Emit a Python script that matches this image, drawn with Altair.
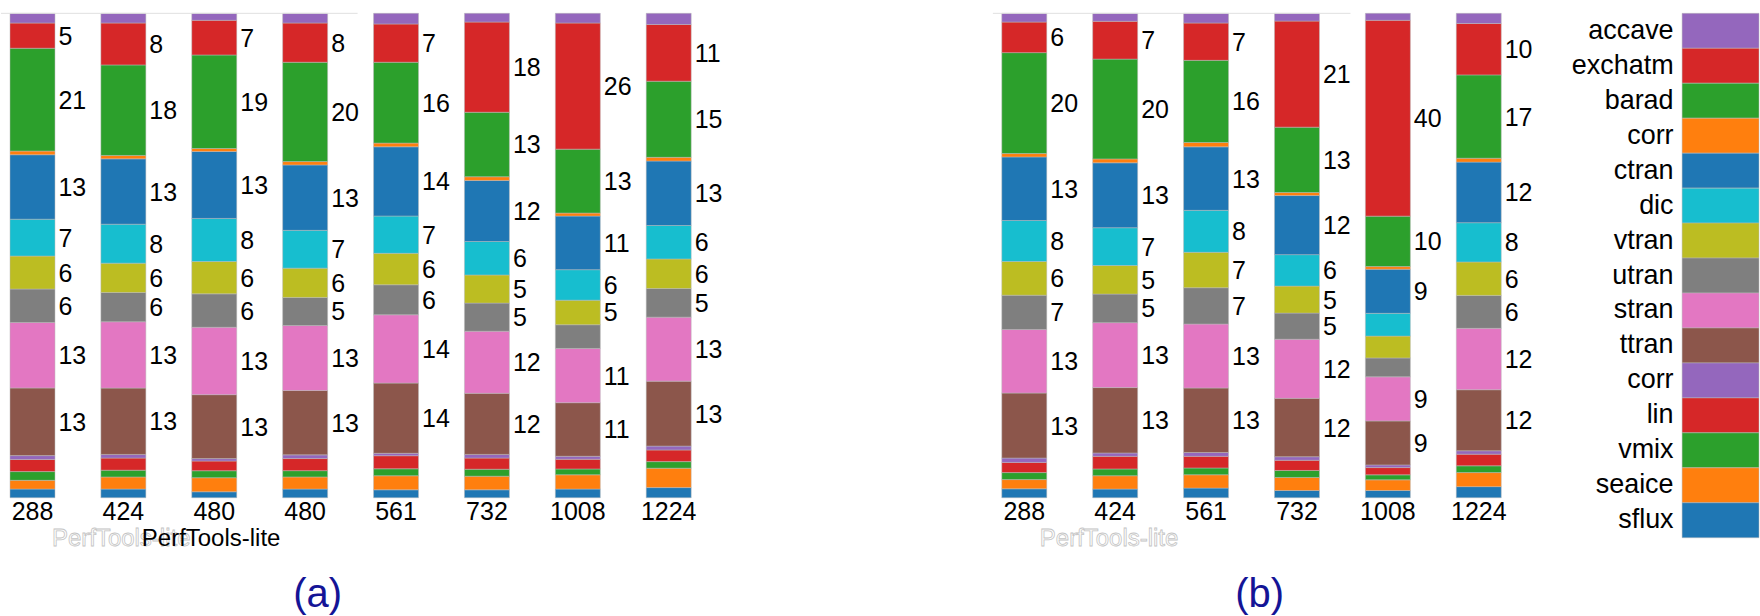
import math
import altair as alt
import pandas as pd

FONT = "Liberation Sans"

# components, listed top of bar -> bottom of bar
components = ["accave", "exchatm", "barad", "corr", "ctran", "dic", "vtran", "utran",
              "stran", "ttran", "corr", "lin", "vmix", "seaice", "sflux"]
colors = ["#9467bd", "#d62728", "#2ca02c", "#ff7f0e", "#1f77b4", "#17becf", "#bcbd22",
          "#7f7f7f", "#e377c2", "#8c564b", "#9467bd", "#d62728", "#2ca02c", "#ff7f0e", "#1f77b4"]

nodes_a = ["288", "424", "480", "480", "561", "732", "1008", "1224"]
nodes_b = ["288", "424", "561", "732", "1008", "1224"]

# share of run time (%) per component, same order as `components`
shares_a = [
    [2.0, 5.2, 21.2, 0.76, 13.3, 7.6, 6.8, 6.9, 13.5, 13.95, 0.8, 2.5, 1.8, 1.8, 1.8],
    [2.0, 8.66, 18.7, 0.7, 13.5, 8.05, 6.05, 6.06, 13.7, 13.7, 0.76, 2.5, 1.4, 2.5, 1.8],
    [1.44, 7.15, 19.3, 0.62, 13.8, 8.9, 6.66, 6.9, 13.9, 13.2, 0.5, 2.0, 1.44, 2.9, 1.24],
    [2.0, 8.1, 20.5, 0.7, 13.5, 7.8, 6.05, 5.8, 13.4, 13.3, 0.76, 2.5, 1.3, 2.5, 1.8],
    [2.2, 7.9, 16.7, 0.76, 14.3, 7.7, 6.5, 6.2, 14.1, 14.5, 0.5, 2.7, 1.44, 2.9, 1.65],
    [1.8, 18.6, 13.3, 0.76, 12.6, 6.9, 5.8, 5.8, 12.8, 12.6, 0.76, 2.3, 1.44, 2.8, 1.65],
    [2.0, 26.05, 13.2, 0.62, 11.07, 6.3, 5.07, 4.9, 11.2, 11.07, 0.62, 2.0, 1.2, 2.95, 1.8],
    [2.3, 11.7, 15.7, 0.76, 13.3, 6.9, 6.1, 5.9, 13.2, 13.4, 0.8, 2.4, 1.36, 4.0, 2.1],
]
shares_b = [
    [1.8, 6.3, 20.8, 0.7, 13.1, 8.45, 6.95, 7.07, 13.1, 13.4, 0.9, 2.1, 1.44, 1.9, 1.85],
    [1.65, 7.8, 20.6, 0.8, 13.4, 7.8, 5.9, 5.9, 13.4, 13.5, 0.7, 2.6, 1.4, 2.75, 1.8],
    [2.0, 7.7, 16.95, 0.9, 13.1, 8.66, 7.3, 7.5, 13.2, 13.3, 0.8, 2.4, 1.4, 2.75, 2.0],
    [1.6, 21.9, 13.5, 0.62, 12.2, 6.5, 5.57, 5.4, 12.2, 12.05, 0.74, 2.1, 1.44, 2.7, 1.5],
    [1.44, 40.4, 10.4, 0.55, 9.1, 4.7, 4.5, 3.9, 9.1, 9.07, 0.55, 1.5, 1.03, 2.2, 1.5],
    [2.1, 10.6, 17.2, 0.8, 12.5, 8.1, 6.9, 6.8, 12.66, 12.6, 0.7, 2.4, 1.4, 2.9, 2.3],
]


def build(nodes, shares):
    rows = []
    for slot, (node, vals) in enumerate(zip(nodes, shares)):
        total = sum(vals)
        base = 0.0
        for comp in reversed(range(len(components))):
            v = vals[comp]
            h = v / total * 100.0
            rows.append(dict(slot=slot, node=node, comp=comp, value=v,
                             y0=base, y1=base + h, mid=base + h / 2,
                             label=str(int(math.floor(v))) if v >= 5 else ""))
            base += h
    return pd.DataFrame(rows)


color_enc = alt.Color("comp:N", scale=alt.Scale(domain=list(range(len(components))), range=colors),
                      legend=None)


def panel(df, nodes, width, pad_outer, align, rule_x, gray_x, black_x, tag, tag_x):
    label_expr = "[" + ",".join("'%s'" % n for n in nodes) + "][datum.value]"
    x = alt.X("slot:O",
              scale=alt.Scale(paddingInner=0.505, paddingOuter=pad_outer, align=align),
              axis=alt.Axis(labelExpr=label_expr, title=None, ticks=False, tickSize=0,
                            domain=False, labelAngle=0, labelFontSize=25, labelFont=FONT,
                            labelColor="black", labelPadding=1.5))
    bars = alt.Chart(df).mark_bar(stroke="#bbbbbb", strokeWidth=0.5).encode(
        x=x,
        y=alt.Y("y0:Q", scale=alt.Scale(domain=[0, 100], nice=False), axis=None),
        y2="y1:Q",
        color=color_enc,
    )
    labels = alt.Chart(df[df["label"] != ""]).mark_text(
        align="left", baseline="middle", dx=26, dy=1, fontSize=25, font=FONT, color="black"
    ).encode(x=x, y=alt.Y("mid:Q", axis=None), text="label:N")
    rule = alt.Chart(pd.DataFrame({"top": [100]})).mark_rule(color="#e0e0e0", strokeWidth=1).encode(
        y=alt.Y("top:Q", axis=None), x=alt.value(rule_x[0]), x2=alt.value(rule_x[1]))
    layers = [bars, labels, rule]
    gray = alt.Chart(pd.DataFrame({"t": ["PerfTools-lite"]})).mark_text(
        align="left", baseline="alphabetic", fontSize=24, font=FONT,
        fill="white", stroke="#c4c4c4", strokeWidth=0.8
    ).encode(x=alt.value(gray_x), y=alt.value(533), text="t:N")
    layers.append(gray)
    if black_x is not None:
        black = alt.Chart(pd.DataFrame({"t": ["PerfTools-lite"]})).mark_text(
            align="left", baseline="alphabetic", fontSize=24, font=FONT, color="black"
        ).encode(x=alt.value(black_x), y=alt.value(533), text="t:N")
        layers.append(black)
    title = alt.Chart(pd.DataFrame({"t": [tag]})).mark_text(
        align="center", baseline="alphabetic", fontSize=40, font=FONT, color="#141496"
    ).encode(x=alt.value(tag_x), y=alt.value(594), text="t:N")
    layers.append(title)
    return alt.layer(*layers).properties(width=width, height=485)


df_a = build(nodes_a, shares_a)
df_b = build(nodes_b, shares_b)

pa = panel(df_a, nodes_a, 700, 0.099, 0.5, (0, 357), 51, 141, "(a)", 317)
pb = panel(df_b, nodes_b, 639, 0.7635, 0.935, (121, 479), 168, None, "(b)", 388)

legend_expr = "[" + ",".join("'%s'" % c for c in components) + "][datum.value]"
leg_df = pd.DataFrame({"comp": list(range(len(components))), "one": [1] * len(components)})
legend = alt.Chart(leg_df).mark_bar(stroke="#bbbbbb", strokeWidth=0.5).encode(
    y=alt.Y("comp:O", scale=alt.Scale(paddingInner=0, paddingOuter=0),
            axis=alt.Axis(labelExpr=legend_expr, title=None, ticks=False, domain=False,
                          labelFontSize=27, labelFont=FONT, labelColor="black", labelPadding=9)),
    x=alt.X("one:Q", scale=alt.Scale(domain=[0, 1], nice=False), axis=None),
    color=color_enc,
).properties(width=77, height=525)

chart = alt.hconcat(pa, pb, legend, spacing=172).properties(
    padding={"left": 0, "top": 12, "right": 0, "bottom": 0},
    bounds="flush",
    background="white",
).configure_view(stroke=None)

chart.save("out.html", embed_options={"renderer": "svg", "actions": False})
